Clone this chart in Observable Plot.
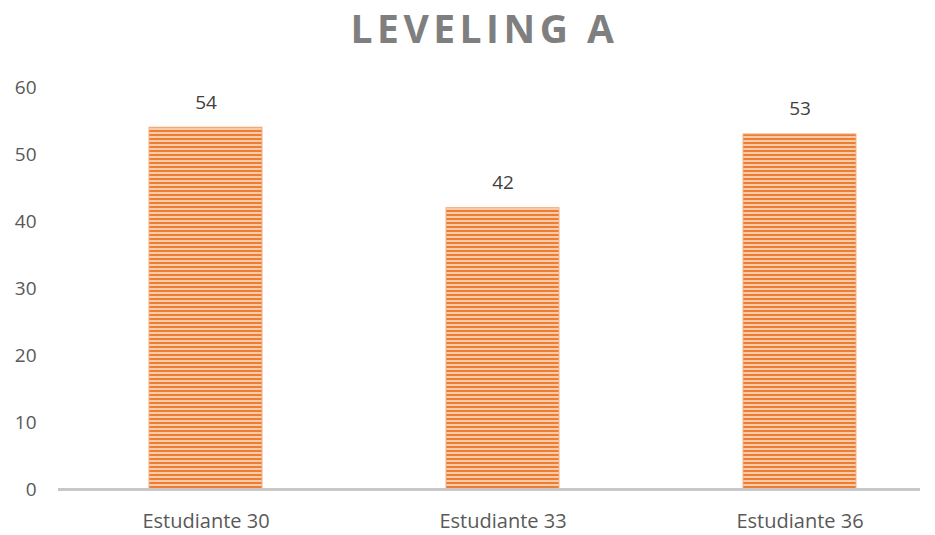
<!DOCTYPE html>
<html><head><meta charset="utf-8">
<script src="https://cdn.jsdelivr.net/npm/d3@7"></script>
<script src="https://cdn.jsdelivr.net/npm/@observablehq/plot@0.6"></script>
<style>
body{margin:0;background:#fff;font-family:"Open Sans",sans-serif;}
#title{height:70px;line-height:56px;text-align:center;font-weight:bold;font-size:39px;letter-spacing:4.5px;color:#7f7f7f;padding-left:34px;}
</style></head>
<body>
<div id="title">LEVELING A</div>
<div id="chart"></div>
<script>
const categories = ["Estudiante 30", "Estudiante 33", "Estudiante 36"];
const values = [54, 42, 53];
const yTicks = [0, 10, 20, 30, 40, 50, 60];

const data = categories.map((c, i) => ({cat: c, v: values[i]}));

const chart = Plot.plot({
  width: 935,
  height: 465,
  marginTop: 17,
  marginBottom: 46,
  marginLeft: 58,
  marginRight: 15,
  style: {fontFamily: "Open Sans, sans-serif", fontSize: "19px", color: "#595959", background: "#fff"},
  x: {domain: categories, range: [56, 949], paddingInner: 0.62, paddingOuter: 0.31, label: null, tickSize: 0, tickPadding: 24},
  y: {domain: [0, 60], ticks: yTicks, label: null, tickSize: 0, tickPadding: 22},
  marks: [
    Plot.barY(data, {x: "cat", y: "v", fill: "url(#stripes)", stroke: "#F4B183", strokeWidth: 1}),
    Plot.ruleY([0], {stroke: "#c8c8c8", strokeWidth: 3}),
    Plot.text(data, {x: "cat", y: "v", text: d => String(d.v), dy: -25, fill: "#404040", fontSize: 19})
  ]
});
chart.querySelectorAll('[aria-label="x-axis tick label"] text').forEach(t => t.setAttribute("font-size", "20"));

const defs = document.createElementNS("http://www.w3.org/2000/svg", "defs");
defs.innerHTML = `<pattern id="stripes" patternUnits="userSpaceOnUse" width="8" height="4">
  <rect x="0" y="0" width="8" height="4" fill="#F8CBAD"/>
  <rect x="0" y="0" width="8" height="2" fill="#ED7D31"/>
</pattern>`;
chart.insertBefore(defs, chart.firstChild);
document.getElementById("chart").appendChild(chart);
</script>
</body></html>
